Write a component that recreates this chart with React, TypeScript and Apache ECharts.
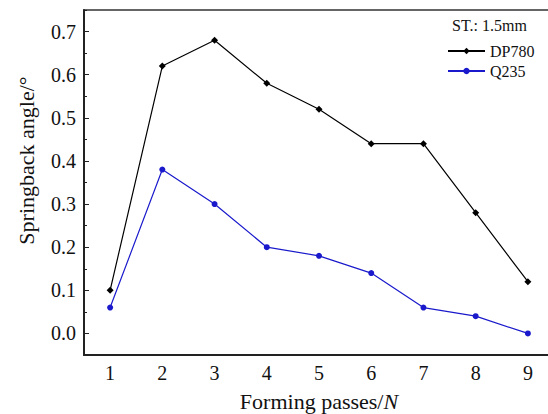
import React, { useEffect, useRef } from "react";
import * as echarts from "echarts";

const passes = ["1", "2", "3", "4", "5", "6", "7", "8", "9"];
const dp780 = [0.10, 0.62, 0.68, 0.58, 0.52, 0.44, 0.44, 0.28, 0.12];
const q235 = [0.06, 0.38, 0.30, 0.20, 0.18, 0.14, 0.06, 0.04, 0.00];
const yTicks = [0, 0.1, 0.2, 0.3, 0.4, 0.5, 0.6, 0.7];

const FONT = "Liberation Serif";

export default function App() {
  const ref = useRef<HTMLDivElement>(null);
  useEffect(() => {
    if (!ref.current) return;
    const chart = echarts.init(ref.current, null, { renderer: "svg" });
    chart.setOption({
      animation: false,
      backgroundColor: "#fff",
      textStyle: { fontFamily: FONT },
      grid: {
        left: 84,
        top: 10,
        bottom: 59,
        right: -6,
        containLabel: false,
        outerBoundsMode: "none",
        show: true,
        borderColor: "#333",
        borderWidth: 1.5,
      },
      legend: {
        orient: "vertical",
        left: 442,
        top: 38,
        itemWidth: 37,
        itemHeight: 8,
        itemGap: 4,
        textStyle: { fontFamily: FONT, fontSize: 16, color: "#111" },
        data: ["DP780", "Q235"],
      },
      graphic: [
        {
          type: "text",
          left: 452,
          top: 17,
          style: { text: "ST.: 1.5mm", fontFamily: FONT, fontSize: 16, fill: "#111" },
        },
      ],
      xAxis: {
        type: "category",
        data: passes,
        boundaryGap: true,
        axisLine: { onZero: false, lineStyle: { color: "#222", width: 2 } },
        axisTick: { alignWithLabel: true, inside: true, length: 5, lineStyle: { color: "#222" } },
        axisLabel: { fontFamily: FONT, fontSize: 20, color: "#111", margin: 8, interval: 0 },
        name: "Forming passes/{i|N}",
        nameLocation: "middle",
        nameGap: 35,
        nameTextStyle: {
          fontFamily: FONT,
          fontSize: 22,
          color: "#111",
          rich: { i: { fontStyle: "italic", fontFamily: FONT, fontSize: 22, color: "#111" } },
        },
      },
      yAxis: [
        {
          type: "value",
          min: -0.05,
          max: 0.75,
          splitLine: { show: false },
          axisLine: { show: true, onZero: false, lineStyle: { color: "#222", width: 2 } },
          axisTick: { show: true, inside: true, length: 5, customValues: yTicks, lineStyle: { color: "#222" } },
          axisLabel: {
            fontFamily: FONT,
            fontSize: 20,
            color: "#111",
            customValues: yTicks,
            formatter: (v: number) => v.toFixed(1),
          },
          name: "Springback angle/°",
          nameLocation: "middle",
          nameGap: 47,
          nameTextStyle: { fontFamily: FONT, fontSize: 22, color: "#111", padding: [0, 0, 0, 44] },
        },
        {
          type: "value",
          position: "left",
          min: -0.05,
          max: 0.75,
          interval: 0.05,
          splitLine: { show: false },
          axisLine: { show: false, onZero: false },
          axisTick: { show: true, inside: true, length: 3, lineStyle: { color: "#222" } },
          axisLabel: { show: false },
        },
      ],
      series: [
        {
          name: "DP780",
          type: "line",
          data: dp780,
          symbol: "diamond",
          symbolSize: 7,
          color: "#000",
          lineStyle: { color: "#000", width: 1.2 },
          itemStyle: { color: "#000" },
        },
        {
          name: "Q235",
          type: "line",
          data: q235,
          symbol: "circle",
          symbolSize: 6,
          color: "#1a1acc",
          lineStyle: { color: "#1a1acc", width: 1.2 },
          itemStyle: { color: "#1a1acc" },
        },
      ],
    });
    return () => chart.dispose();
  }, []);
  return <div ref={ref} style={{ width: 548, height: 414, position: "absolute", left: 0, top: 0 }} />;
}
